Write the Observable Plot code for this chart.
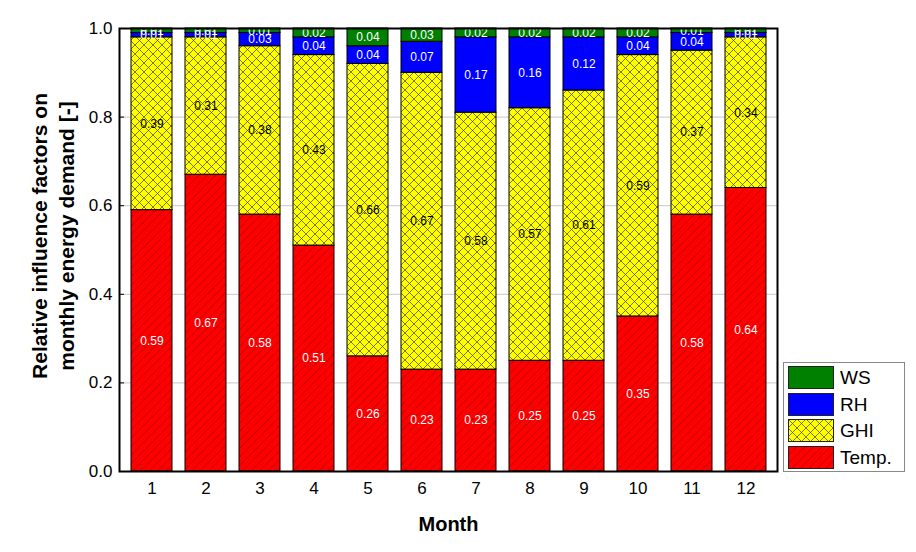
<!DOCTYPE html>
<html><head><meta charset="utf-8">
<script src="https://cdn.jsdelivr.net/npm/d3@7"></script>
<script src="https://cdn.jsdelivr.net/npm/@observablehq/plot@0.6"></script>
<style>
body{margin:0;background:#fff;font-family:"Liberation Sans",Arial,sans-serif;}
#wrap{position:relative;width:916px;height:552px;}
#legend{position:absolute;left:783px;top:362px;width:122px;height:110px;border:1px solid #888;box-sizing:border-box;background:#fff;}
.item{position:absolute;left:4px;height:23px;display:flex;align-items:center;}
.item svg{display:block;}
.item span{margin-left:6px;font-size:19px;color:#000;line-height:23px;}
</style></head><body>
<svg width="0" height="0" style="position:absolute">
<defs>
<pattern id="hatchRed" patternUnits="userSpaceOnUse" width="6" height="6" patternTransform="rotate(45)">
<rect width="6" height="6" fill="#ff0000"/>
<line x1="0" y1="0" x2="0" y2="6" stroke="#b00000" stroke-width="1.2"/>
</pattern>
<pattern id="crossYellow" patternUnits="userSpaceOnUse" width="9" height="9">
<rect width="9" height="9" fill="#ffff00"/>
<path d="M0,0L9,9M9,0L0,9" stroke="#404000" stroke-width="0.7" fill="none"/>
</pattern>
</defs>
</svg>
<div id="wrap"><div id="legend"></div></div>
<script>
const months = [1,2,3,4,5,6,7,8,9,10,11,12];
const tempVals = [0.59,0.67,0.58,0.51,0.26,0.23,0.23,0.25,0.25,0.35,0.58,0.64];
const ghiVals  = [0.39,0.31,0.38,0.43,0.66,0.67,0.58,0.57,0.61,0.59,0.37,0.34];
const rhVals   = [0.01,0.01,0.03,0.04,0.04,0.07,0.17,0.16,0.12,0.04,0.04,0.01];
const wsVals   = [0.01,0.01,0.01,0.02,0.04,0.03,0.02,0.02,0.02,0.02,0.01,0.01];
const seriesNames = ["Temp.","GHI","RH","WS"];
const seriesFills = ["url(#hatchRed)","url(#crossYellow)","#0000ff","#008000"];
const yTicks = [0,0.2,0.4,0.6,0.8,1.0];
const yTitle = "Relative influence factors on\nmonthly energy demand [-]";
const xTitle = "Month";

const valueSets = [tempVals, ghiVals, rhVals, wsVals];
const rows = [];
months.forEach((m, i) => {
  let acc = 0;
  valueSets.forEach((arr, k) => {
    const v = arr[i];
    rows.push({month: m, series: seriesNames[k], value: v, y1: acc, y2: acc + v, mid: acc + v / 2});
    acc += v;
  });
});

const chart = Plot.plot({
  width: 916, height: 552,
  marginTop: 28, marginRight: 139, marginBottom: 81, marginLeft: 119,
  style: {fontFamily: "'Liberation Sans', Arial, sans-serif", fontSize: "17px", color: "black", background: "white"},
  x: {type: "band", domain: months, paddingInner: 0.25, paddingOuter: 0.125, label: null},
  y: {domain: [0, 1], label: null},
  color: {domain: seriesNames, range: seriesFills},
  marks: [
    Plot.gridY(yTicks, {stroke: "#c8c8c8", strokeOpacity: 1}),
    Plot.barY(rows, {x: "month", y1: "y1", y2: "y2", fill: "series", stroke: "black", strokeWidth: 1}),
    Plot.text(rows.filter(d => d.series === "GHI"), {x: "month", y: "mid", text: d => d.value.toFixed(2), fill: "black", fontSize: 12, clip: true}),
    Plot.text(rows.filter(d => d.series !== "GHI"), {x: "month", y: "mid", text: d => d.value.toFixed(2), fill: "white", fontSize: 12, clip: true}),
    Plot.axisY(yTicks, {tickSize: -5, tickPadding: 12, tickFormat: d3.format(".1f"), fontSize: 17, label: null}),
    Plot.axisX({tickSize: 0, tickPadding: 10, fontSize: 17, label: null}),
    Plot.frame({stroke: "black", strokeWidth: 2}),
    Plot.text([yTitle], {frameAnchor: "left", rotate: -90, dx: -68, dy: -14, fontSize: 21, fontWeight: "bold", lineHeight: 1.3, lineAnchor: "middle", textAnchor: "middle"}),
    Plot.text([xTitle], {frameAnchor: "bottom", dy: 53, fontSize: 20, fontWeight: "bold", lineAnchor: "middle"})
  ]
});
document.getElementById("wrap").prepend(chart);

const legendOrder = ["WS","RH","GHI","Temp."];
const legendTops = [3, 30, 56, 83];
const leg = document.getElementById("legend");
legendOrder.forEach((name, j) => {
  const fill = seriesFills[seriesNames.indexOf(name)];
  const div = document.createElement("div");
  div.className = "item";
  div.style.top = legendTops[j] + "px";
  div.innerHTML = `<svg width="46" height="23"><rect x="0.5" y="0.5" width="45" height="22" fill="${fill}" stroke="#222" stroke-width="1"/></svg><span>${name}</span>`;
  leg.appendChild(div);
});
</script>
</body></html>
